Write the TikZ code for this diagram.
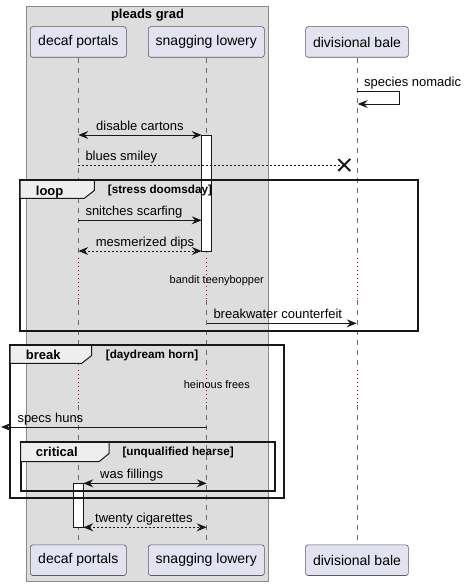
\documentclass[tikz,border=0pt]{standalone}
\usepackage{fontspec}
\setmainfont{Liberation Sans}
\usetikzlibrary{arrows.meta}
\definecolor{boxfill}{HTML}{DDDDDD}
\definecolor{boxline}{HTML}{8A8A8A}
\definecolor{partfill}{HTML}{E2E2F0}
\definecolor{partline}{HTML}{5A5A5A}
\definecolor{lifec}{HTML}{6A6A6A}
\definecolor{delayc}{HTML}{A80036}
\definecolor{tabfill}{HTML}{EEEEEE}
\definecolor{ink}{HTML}{181818}
\tikzset{
  part/.style={draw=partline, fill=partfill, rounded corners=2.5pt, line width=0.6pt,
    minimum height=30.6pt, inner sep=0pt, font=\fontsize{14}{16}\selectfont},
  life/.style={draw=lifec, line width=0.6pt, dash pattern=on 5pt off 5pt},
  delayl/.style={draw=delayc, line width=1pt, dash pattern=on 1.2pt off 2.8pt},
  msg/.style={draw=ink, line width=0.9pt, -{Stealth[length=10pt,width=8pt,inset=3.5pt]}},
  bimsg/.style={draw=ink, line width=0.9pt, {Stealth[length=10pt,width=8pt,inset=3.5pt]}-{Stealth[length=10pt,width=8pt,inset=3.5pt]}},
  retl/.style={dash pattern=on 2pt off 2pt},
  mtext/.style={anchor=base west, inner sep=0pt, font=\fontsize{13}{15}\selectfont},
  dtext/.style={anchor=base, inner sep=0pt, font=\fontsize{11}{13}\selectfont},
  frm/.style={draw=ink, line width=1.8pt},
  tabshape/.style={draw=ink, fill=tabfill, line width=1pt},
  flabel/.style={anchor=base west, inner sep=0pt, font=\bfseries\fontsize{13}{15}\selectfont},
  guard/.style={anchor=base west, inner sep=0pt, font=\bfseries\fontsize{11.7}{13}\selectfont},
  act/.style={draw=ink, fill=white, line width=0.9pt},
}
\begin{document}
\begin{tikzpicture}[x=1pt,y=-1pt]
\useasboundingbox (0,0) rectangle (468,586);
% group box
\draw[draw=boxline, fill=boxfill, line width=0.8pt] (26.7,6) rectangle (268,581.7);
\node[anchor=base, inner sep=0pt, font=\bfseries\fontsize{13}{15}\selectfont] (grp) at (147.5,19) {pleads grad};
% participants
\node[part, minimum width=96pt] (dpT) at (78.3,42) {decaf portals};
\node[part, minimum width=116pt] (slT) at (206.3,42) {snagging lowery};
\node[part, minimum width=102.7pt] (dbT) at (357,42) {divisional bale};
\node[part, minimum width=96pt] (dpB) at (78.3,560.2) {decaf portals};
\node[part, minimum width=116pt] (slB) at (206.3,560.2) {snagging lowery};
\node[part, minimum width=102.7pt] (dbB) at (357,560.2) {divisional bale};
% delay levels
\coordinate (d1s) at (0,258);
\coordinate (d1e) at (0,300);
\coordinate (d2s) at (0,370);
\coordinate (d2e) at (0,405);
\foreach \p in {dp,sl,db}{
  \draw[life] (\p T.south) -- (\p T.south |- d1s);
  \draw[delayl] (\p T.south |- d1s) -- (\p T.south |- d1e);
  \draw[life] (\p T.south |- d1e) -- (\p T.south |- d2s);
  \draw[delayl] (\p T.south |- d2s) -- (\p T.south |- d2e);
  \draw[life] (\p T.south |- d2e) -- (\p B.north);
}
% activation bars
\draw[act] (201.7,135) rectangle (211.7,251);
\draw[act] (73.3,483.3) rectangle (83.3,527.3);
% frames
\draw[frm] (20,180.3) rectangle (418.3,331.3);
\draw[tabshape] (20,180.3) -- (94.3,180.3) -- (94.3,190.5) -- (84.3,198.3) -- (20,198.3) -- cycle;
\draw[frm] (10,345.3) rectangle (284.3,498.3);
\draw[tabshape] (10,345.3) -- (91.7,345.3) -- (91.7,355.5) -- (81.7,363.3) -- (10,363.3) -- cycle;
\draw[frm] (20.7,442.3) rectangle (275,491.3);
\draw[tabshape] (20.7,442.3) -- (109,442.3) -- (109,453.5) -- (99,461.7) -- (20.7,461.7) -- cycle;
\node[flabel] (lpL) at (35.7,195) {loop};
\node[guard] (lpG) at (107.7,193) {[stress doomsday]};
\node[flabel] (brL) at (25.7,359.5) {break};
\node[guard] (brG) at (105.7,358) {[daydream horn]};
\node[flabel] (crL) at (35.7,456.5) {critical};
\node[guard] (crG) at (122.3,455) {[unqualified hearse]};
% message end points
\coordinate (sm1) at (356.7,91);
\coordinate (sm1c) at (399,91);
\coordinate (sm2c) at (399,104);
\coordinate (sm2) at (357.7,104);
\coordinate (m1a) at (78.3,135);
\coordinate (m1b) at (201.7,135);
\coordinate (m2a) at (78.3,165);
\coordinate (m2b) at (344.3,165);
\coordinate (m3a) at (78.3,220.3);
\coordinate (m3b) at (201.7,220.3);
\coordinate (m4a) at (78.3,251);
\coordinate (m4b) at (201.7,251);
\coordinate (m5a) at (206.7,323.3);
\coordinate (m5b) at (356.7,323.3);
\coordinate (m6a) at (206.7,427);
\coordinate (m6b) at (1,427);
\coordinate (m7a) at (83.3,483.3);
\coordinate (m7b) at (206.7,483.3);
\coordinate (m8a) at (83.3,527.3);
\coordinate (m8b) at (206.7,527.3);
% messages
\draw[msg] (sm1) -- (sm1c) -- (sm2c) -- (sm2);
\node[mtext] (t0) at (364,86) {species nomadic};
\draw[bimsg] (m1a) -- (m1b);
\node[mtext] (t1) at (96,130) {disable cartons};
\draw[draw=ink, line width=0.9pt, retl] (m2a) -- (m2b);
\draw[draw=ink, line width=2pt] ([shift={(-6,-6)}]m2b) -- ([shift={(6,6)}]m2b)
  ([shift={(-6,6)}]m2b) -- ([shift={(6,-6)}]m2b);
\node[mtext] (t2) at (85.3,160) {blues smiley};
\draw[msg] (m3a) -- (m3b);
\node[mtext] (t3) at (85.3,215.3) {snitches scarfing};
\draw[bimsg, retl] (m4a) -- (m4b);
\node[mtext] (t4) at (95.7,246) {mesmerized dips};
\node[dtext] (dl1) at (216.8,283.3) {bandit teenybopper};
\draw[msg] (m5a) -- (m5b);
\node[mtext] (t5) at (213.3,318.3) {breakwater counterfeit};
\node[dtext] (dl2) at (216.8,388.3) {heinous frees};
\draw[msg] (m6a) -- (m6b);
\node[mtext] (t6) at (17.3,422) {specs huns};
\draw[bimsg] (m7a) -- (m7b);
\node[mtext] (t7) at (100,478.3) {was fillings};
\draw[bimsg, retl] (m8a) -- (m8b);
\node[mtext] (t8) at (95,522.3) {twenty cigarettes};
\end{tikzpicture}
\end{document}
